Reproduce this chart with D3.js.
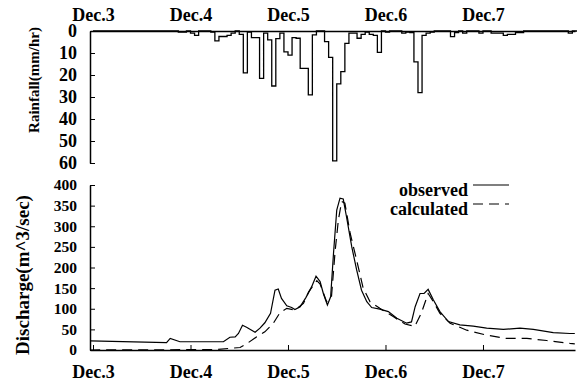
<!DOCTYPE html>
<html>
<head>
<meta charset="utf-8">
<script src="https://cdn.jsdelivr.net/npm/d3@7"></script>
<style>
  body { margin: 0; background: #fff; }
  text { font-family: "Liberation Serif", "Times New Roman", serif; font-weight: bold; fill: #000; }
</style>
</head>
<body>
<div id="chart"></div>
<script>
var width = 577;
var height = 389;

// x ticks: hours from Dec.3 00:00
var dayTicks = [0, 24, 48, 72, 96];
var dayLabels = ['Dec.3', 'Dec.4', 'Dec.5', 'Dec.6', 'Dec.7'];

// hourly rainfall (mm/hr), Dec.3 00:00 .. Dec.7 23:00
var rainfall = [
  0, 0, 0, 0, 0, 0, 0, 0, 0, 0, 0, 0, 0, 0, 0, 0, 0, 0, 0, 0,
  0, 0.5, 0.5, 0, 1, 2, 0, 0, 0, 0.5, 4.5, 2.5, 2.5, 2, 1, 0, 1.5, 19, 0.5, 3,
  3, 21.5, 1, 4, 25, 3.5, 1, 9.5, 11, 3, 3.3, 17, 17, 29, 1.8, 0, 0, 4.8, 12, 59,
  24, 18.5, 5.6, 1, 1, 3.3, 1.5, 0.5, 1.5, 2, 9.7, 0, 0.5, 0, 0, 0, 1, 0.5, 0.7, 14,
  28, 2, 1, 0.5, 0, 0, 0, 0, 2.6, 0.7, 0, 1, 0, 0, 0, 1, 0, 0, 1, 1,
  1, 2, 1.5, 1.5, 0.7, 0.7, 0, 0, 0, 0, 0, 0, 0, 0, 0, 0, 0, 1, 0, 0
];
var rainTicks = [0, 10, 20, 30, 40, 50, 60];

// discharge (m^3/sec), [hour, value]
var observed = [
  [-0.7, 22], [18.1, 18], [19, 28], [21.4, 20], [32.1, 20], [33.7, 31], [35, 32],
  [35.8, 40], [36.8, 60], [37.8, 55], [39.9, 43], [41.1, 53], [42.3, 66], [43.7, 89],
  [44.8, 145], [45.6, 148], [46.4, 125], [47.7, 107], [48.9, 103], [49.7, 98],
  [51, 105], [52.4, 127], [53.8, 153], [54.9, 179], [55.9, 166], [56.7, 137],
  [57.7, 109], [58.5, 129], [59.2, 234], [60, 339], [60.8, 368], [61.6, 366],
  [62.4, 323], [63.7, 250], [64.9, 194], [66.1, 145], [67.4, 117], [68.6, 103],
  [70.6, 99], [72.7, 93], [74.8, 77], [77.2, 65], [78.4, 68], [79.3, 105],
  [80.5, 137], [81.5, 137], [82.5, 147], [83.8, 121], [85.4, 93], [87.5, 69],
  [90.3, 61], [93.6, 58], [96.9, 53], [101, 50], [105.1, 53], [108.4, 50],
  [113.3, 42], [117.4, 40], [118.6, 40]
];
var calculated = [
  [-0.7, 0], [30, 1], [36.2, 6], [37.8, 15], [40.3, 32], [42.3, 44], [44.4, 65],
  [46, 90], [47.7, 101], [49.7, 97], [51.8, 113], [53.1, 141], [55.1, 168],
  [55.9, 160], [57.5, 117], [58.7, 129], [59.6, 240], [60.4, 315], [61.2, 360],
  [62, 356], [63.3, 283], [64.9, 218], [66.5, 150], [68.2, 117], [70.6, 101],
  [73.9, 81], [76.8, 63], [79.2, 57], [80.8, 89], [82.5, 137], [83.8, 117],
  [85.4, 89], [87.9, 65], [92, 48], [96.9, 36], [101.8, 28], [106.8, 28],
  [111.7, 23], [117.4, 16], [118.6, 15]
];
var dischargeTicks = [0, 50, 100, 150, 200, 250, 300, 350, 400];

var svg = d3.select('#chart')
  .append('svg')
  .attr('width', width)
  .attr('height', height);

var x = d3.scaleLinear().domain([-0.74, 118.65]).range([90, 575]);
var yRain = d3.scaleLinear().domain([0, 60]).range([31, 163]);
var yQ = d3.scaleLinear().domain([0, 400]).range([350, 185]);

svg.append('clipPath').attr('id', 'clip')
  .append('rect').attr('x', 90).attr('y', 0).attr('width', 487).attr('height', height);

// ---- rainfall panel ----
var rainPts = rainfall.map(function(v, i) { return [i, v]; });
rainPts.push([120, 0]);

svg.append('path')
  .datum(rainPts)
  .attr('clip-path', 'url(#clip)')
  .attr('fill', 'none')
  .attr('stroke', '#000')
  .attr('stroke-width', 1.3)
  .attr('d', d3.line()
    .x(function(d) { return x(d[0]); })
    .y(function(d) { return yRain(d[1]); })
    .curve(d3.curveStepAfter));

var topAxis = svg.append('g')
  .attr('transform', 'translate(0,31)')
  .call(d3.axisTop(x)
    .tickValues(dayTicks)
    .tickFormat(function(d, i) { return dayLabels[i]; })
    .tickSizeInner(0).tickSizeOuter(0).tickPadding(10));

var rainAxis = svg.append('g')
  .attr('transform', 'translate(90,0)')
  .call(d3.axisLeft(yRain)
    .tickValues(rainTicks)
    .tickSizeInner(-5).tickSizeOuter(0).tickPadding(13));
rainAxis.selectAll('text').style('font-size', '18px');

svg.append('text')
  .attr('transform', 'translate(39,80) rotate(-90)')
  .attr('text-anchor', 'middle')
  .style('font-size', '15px')
  .text('Rainfall(mm/hr)');

// ---- discharge panel ----
var line = d3.line()
  .x(function(d) { return x(d[0]); })
  .y(function(d) { return yQ(d[1]); });

svg.append('path')
  .datum(calculated)
  .attr('fill', 'none')
  .attr('stroke', '#000')
  .attr('stroke-width', 1.2)
  .attr('stroke-dasharray', '10,6')
  .attr('d', line);

svg.append('path')
  .datum(observed)
  .attr('fill', 'none')
  .attr('stroke', '#000')
  .attr('stroke-width', 1.2)
  .attr('d', line);

var bottomAxis = svg.append('g')
  .attr('transform', 'translate(0,350)')
  .call(d3.axisBottom(x)
    .tickValues(dayTicks)
    .tickFormat(function(d, i) { return dayLabels[i]; })
    .tickSizeInner(-5).tickSizeOuter(0).tickPadding(15));

var qAxis = svg.append('g')
  .attr('transform', 'translate(90,0)')
  .call(d3.axisLeft(yQ)
    .tickValues(dischargeTicks)
    .tickSizeInner(-5).tickSizeOuter(0).tickPadding(13));
qAxis.selectAll('text').style('font-size', '15.5px');

svg.selectAll('.domain').attr('stroke-width', 1.5);
topAxis.selectAll('text').style('font-size', '18px');
bottomAxis.selectAll('text').style('font-size', '18px');

svg.append('text')
  .attr('transform', 'translate(29,275) rotate(-90)')
  .attr('text-anchor', 'middle')
  .style('font-size', '19px')
  .text('Discharge(m^3/sec)');

// legend
var legend = [
  { name: 'observed', y: 196, dash: null },
  { name: 'calculated', y: 215, dash: '10,6' }
];
legend.forEach(function(d) {
  svg.append('text')
    .attr('x', 468).attr('y', d.y)
    .attr('text-anchor', 'end')
    .style('font-size', '18px')
    .text(d.name);
  svg.append('line')
    .attr('x1', 473).attr('x2', 509)
    .attr('y1', d.y - 11).attr('y2', d.y - 11)
    .attr('stroke', '#000')
    .attr('stroke-width', 1.2)
    .attr('stroke-dasharray', d.dash);
});
</script>
</body>
</html>
